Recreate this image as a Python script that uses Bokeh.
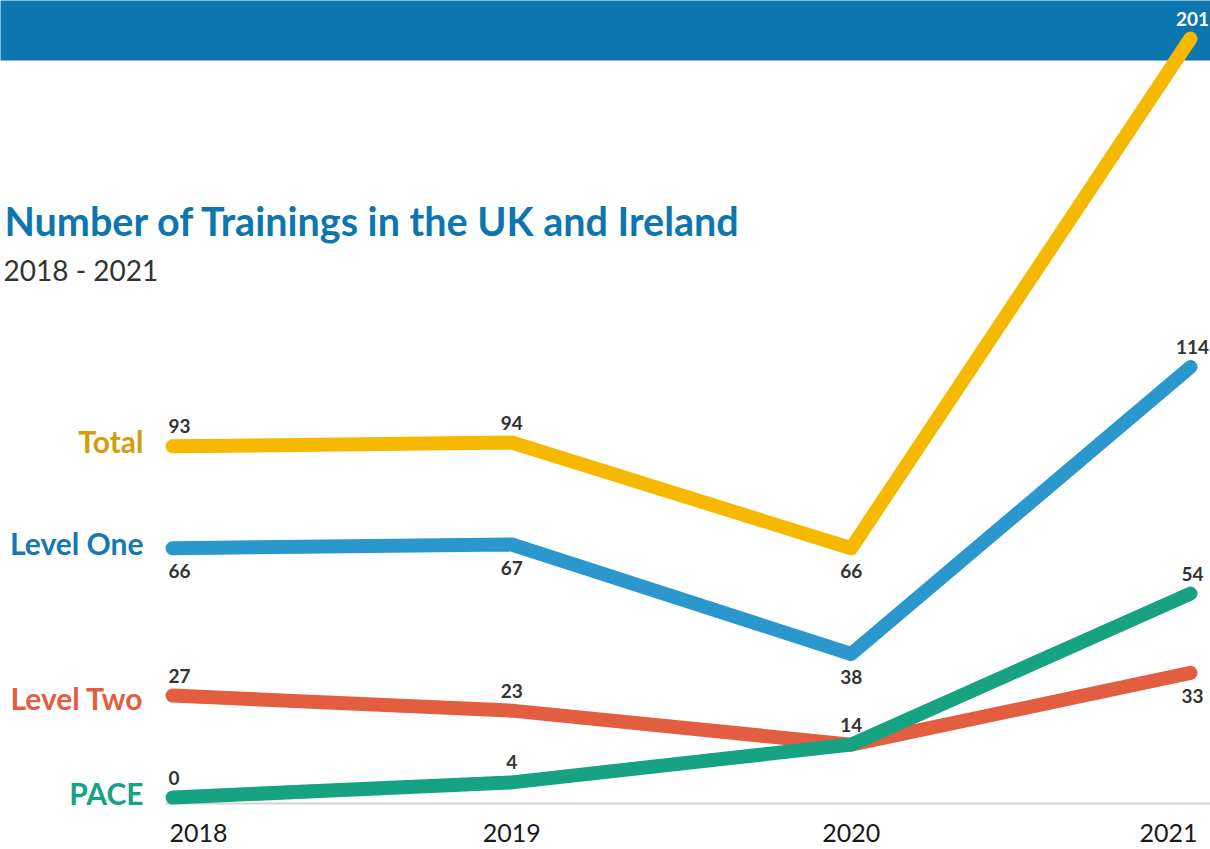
from bokeh.plotting import figure
from bokeh.models import Range1d, BoxAnnotation
from bokeh.core.properties import value
from bokeh.embed import file_html
from bokeh.resources import INLINE

# ---- data ----
years = [2018, 2019, 2020, 2021]
year_labels = ["2018", "2019", "2020", "2021"]
series_names = ["Total", "Level One", "Level Two", "PACE"]
total = [93, 94, 66, 201]
level_one = [66, 67, 38, 114]
level_two = [27, 23, 14, 33]
pace = [0, 4, 14, 54]

# ---- styling ----
line_colors = ["#F7B800", "#2A98CC", "#E35D40", "#17A282"]
name_colors = ["#D19D0B", "#1479B5", "#E35D40", "#17A282"]
# label placement per point: "a"=above, "b"=below, None=no label
placements = [
    ["a", "a", "b", "a"],
    ["b", "b", "b", "a"],
    ["a", "a", "a", "b"],
    ["a", "a", None, "a"],
]
name_dy = [-5, -5, 2, -5]

W, H = 1210, 849
X_FIRST_PX, X_LAST_PX = 172, 1190   # px of first/last year
Y_ZERO_PX, Y_TOP_PX = 797, 38       # px (from top) of 0 and of the max value

ppx = (X_LAST_PX - X_FIRST_PX) / (years[-1] - years[0])
x_start = years[0] - X_FIRST_PX / ppx
x_end = x_start + W / ppx
ymax = max(total)
ppy = (Y_ZERO_PX - Y_TOP_PX) / ymax
y_start = 0 - (H - Y_ZERO_PX) / ppy
y_end = y_start + H / ppy


def dx(px):
    return x_start + px / ppx


def dy(px):
    return y_end - px / ppy


FONT = value("Lato")

p = figure(width=W, height=H, output_backend="svg", toolbar_location=None,
           x_range=Range1d(x_start, x_end), y_range=Range1d(y_start, y_end),
           min_border=0, outline_line_color=None)
p.axis.visible = False
p.grid.visible = False
p.background_fill_color = "white"
p.border_fill_color = "white"

# header bar
p.add_layout(BoxAnnotation(bottom=dy(60), top=y_end + 10, left=x_start - 1, right=x_end + 1,
                           fill_color="#0E76AF", fill_alpha=1.0, line_color=None,
                           level="underlay"))

# title / subtitle
p.text(x=[dx(4)], y=[dy(220)], text=["Number of Trainings in the UK and Ireland"],
       text_font=FONT, text_font_style="bold", text_font_size="39.5px",
       text_color="#0E76AF", text_baseline="middle", text_align="left")
p.text(x=[dx(3)], y=[dy(269)], text=["2018 - 2021"],
       text_font=FONT, text_font_size="28px",
       text_color="#333333", text_baseline="middle", text_align="left")

# baseline
p.segment(x0=[dx(165)], x1=[x_end], y0=[dy(803)], y1=[dy(803)],
          line_color="#D3D3D3", line_width=2)

all_series = [total, level_one, level_two, pace]
for vals, col in zip(all_series, line_colors):
    p.line(years, vals, line_color=col, line_width=14,
           line_cap="round", line_join="round")

# series names
for name, vals, col, ddy in zip(series_names, all_series, name_colors, name_dy):
    p.text(x=[years[0]], y=[vals[0]], text=[name], x_offset=-29, y_offset=ddy,
           text_font=FONT, text_font_style="bold", text_font_size="30px",
           text_color=col, text_align="right", text_baseline="middle")

# data labels
for vals, place in zip(all_series, placements):
    for i, (yr, v, pl) in enumerate(zip(years, vals, place)):
        if pl is None:
            continue
        off = -20 if pl == "a" else 23
        align = "left" if i == 0 else "center"
        xo = -4 if i == 0 else (2 if i == len(years) - 1 else 0)
        color = "white" if v == ymax else "#333333"
        p.text(x=[yr], y=[v], text=[str(v)], x_offset=xo, y_offset=off,
               text_font=FONT, text_font_style="bold", text_font_size="19px",
               text_color=color, text_align=align, text_baseline="middle")

# year labels
aligns = ["left"] + ["center"] * (len(years) - 2) + ["right"]
xoffs = [-3] + [0] * (len(years) - 2) + [7]
for yr, lab, al, xo in zip(years, year_labels, aligns, xoffs):
    p.text(x=[yr], y=[dy(832)], text=[lab], x_offset=xo,
           text_font=FONT, text_font_size="25px", text_color="#1a1a1a",
           text_align=al, text_baseline="middle")

open("out.html", "w").write(file_html(p, INLINE))
